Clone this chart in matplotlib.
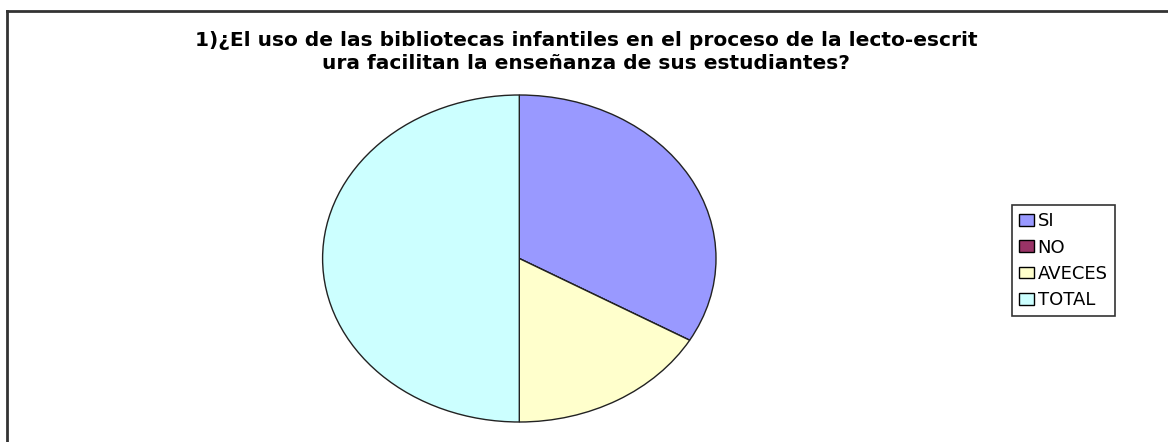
import matplotlib
matplotlib.use("Agg")
import matplotlib.pyplot as plt
from matplotlib.patches import Patch
from matplotlib.lines import Line2D

categories = ["SI", "NO", "AVECES", "TOTAL"]
values = [10, 0, 5, 15]
colors = ["#9999FF", "#993366", "#FFFFCC", "#CCFFFF"]
title_lines = ["1)¿El uso de las bibliotecas infantiles en el proceso de la lecto-escrit",
               "ura facilitan la enseñanza de sus estudiantes?"]

# the reference is horizontally stretched; DejaVu Sans is ~1.2x wider than Arial
plt.rcParams['font.family'] = ['DejaVu Sans']

W, H = 1168, 442
fig = plt.figure(figsize=(W / 100, H / 100), dpi=100)
fig.patch.set_facecolor("white")

# outer frame (top and left edges visible)
fig.add_artist(Line2D([7 / W, 7 / W], [0, 1 - 11 / H], transform=fig.transFigure,
                      color="#333333", lw=2))
fig.add_artist(Line2D([7 / W, 1], [1 - 11 / H, 1 - 11 / H], transform=fig.transFigure,
                      color="#333333", lw=2))

# pie axes (elliptical)
cx, cy, rx, ry = 519.3, 258.5, 196.7, 163.5
ax = fig.add_axes([(cx - rx) / W, 1 - (cy + ry) / H, 2 * rx / W, 2 * ry / H])
ax.pie(values, colors=colors, startangle=90, counterclock=False,
       wedgeprops=dict(edgecolor="#222222", linewidth=1.0))
ax.set_aspect("auto")
ax.set_xlim(-1.0, 1.0)
ax.set_ylim(-1.0, 1.0)
ax.axis("off")

# title, two lines centred on the chart area
for line, base in zip(title_lines, [46, 69]):
    fig.text(586 / W, 1 - base / H, line, ha="center", va="baseline",
             fontsize=14.5, fontweight="bold", color="black")

handles = [Patch(facecolor=c, edgecolor="black", linewidth=1.0) for c in colors]
leg = fig.legend(handles, categories, loc="upper left",
                 bbox_to_anchor=(1012 / W, 1 - 205 / H), frameon=True,
                 fontsize=13, handlelength=0.8, handleheight=0.62,
                 handletextpad=0.22, labelspacing=0.46, borderpad=0.4,
                 borderaxespad=0, fancybox=False)
leg.get_frame().set_edgecolor("black")
leg.get_frame().set_linewidth(1.2)

fig.savefig("out.png", dpi=100, facecolor="white")
